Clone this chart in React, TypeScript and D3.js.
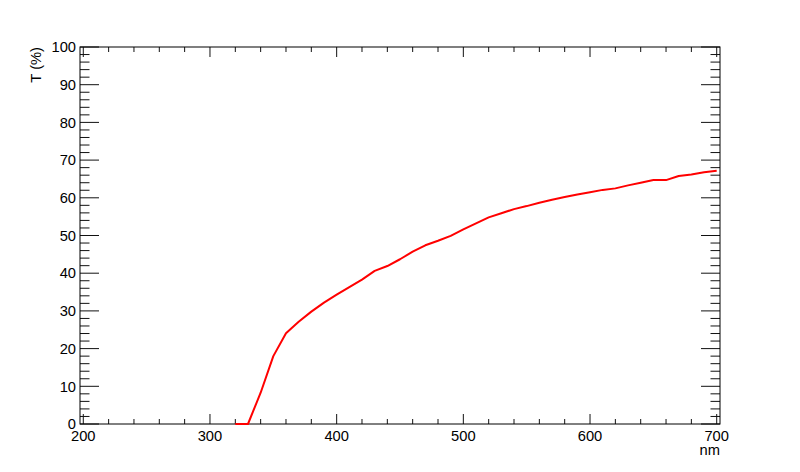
import React from "react";
import * as d3 from "d3";

const wavelengths = [320, 330, 340, 350, 360, 370, 380, 390, 400, 410, 420, 430, 440, 450, 460, 470, 480, 490, 500, 510, 520, 530, 540, 550, 560, 570, 580, 590, 600, 610, 620, 630, 640, 650, 660, 670, 680, 690, 700];
const transmission = [0, 0, 8.3, 18.0, 24.1, 27.1, 29.8, 32.2, 34.3, 36.3, 38.3, 40.6, 41.9, 43.7, 45.7, 47.4, 48.6, 49.9, 51.6, 53.2, 54.8, 55.9, 57.0, 57.8, 58.7, 59.5, 60.2, 60.9, 61.5, 62.1, 62.5, 63.3, 64.0, 64.7, 64.7, 65.8, 66.2, 66.8, 67.2];
const xMajorTicks = [200, 300, 400, 500, 600, 700];
const yMajorTicks = [0, 10, 20, 30, 40, 50, 60, 70, 80, 90, 100];
const xTitle = "nm";
const yTitle = "T (%)";

const W = 800, H = 472;
const L = 80, R = 720, T = 47, B = 424;

export default function App() {
  const x = d3.scaleLinear().domain([197.4, 702.6]).range([L, R]);
  const y = d3.scaleLinear().domain([0, 100]).range([B, T]);
  const line = d3.line<number>().x((_, i) => x(wavelengths[i])).y((d) => y(d));
  const xMinor = d3.range(200, 700.1, 20).filter((v) => v % 100 !== 0);
  const yMinor = d3.range(0, 100.1, 2).filter((v) => v % 10 !== 0);
  const font = "'Liberation Sans', Arial, Helvetica, sans-serif";
  const tc = "#111";
  const fs = 14.7;
  return (
    <svg width={W} height={H} style={{ position: "absolute", left: 0, top: 0, background: "#fff" }} fontFamily={font}>
      <rect x={0} y={0} width={W} height={H} fill="#fff" />
      {xMajorTicks.map((v) => (
        <g key={"xm" + v}>
          <line x1={x(v)} x2={x(v)} y1={B} y2={B - 10} stroke={tc} strokeWidth={1} />
          <line x1={x(v)} x2={x(v)} y1={T} y2={T + 10} stroke={tc} strokeWidth={1} />
          <text x={x(v)} y={440.5} textAnchor="middle" fontSize={fs} fill="#000">{v}</text>
        </g>
      ))}
      {xMinor.map((v) => (
        <g key={"xn" + v}>
          <line x1={x(v)} x2={x(v)} y1={B} y2={B - 5} stroke={tc} strokeWidth={1} />
          <line x1={x(v)} x2={x(v)} y1={T} y2={T + 5} stroke={tc} strokeWidth={1} />
        </g>
      ))}
      {yMajorTicks.map((v) => (
        <g key={"ym" + v}>
          <line x1={L} x2={L + 19} y1={y(v)} y2={y(v)} stroke={tc} strokeWidth={1} />
          <line x1={R} x2={R - 19} y1={y(v)} y2={y(v)} stroke={tc} strokeWidth={1} />
          <text x={76} y={y(v) + 5.2} textAnchor="end" fontSize={fs} fill="#000">{v}</text>
        </g>
      ))}
      {yMinor.map((v) => (
        <g key={"yn" + v}>
          <line x1={L} x2={L + 9.5} y1={y(v)} y2={y(v)} stroke={tc} strokeWidth={1} />
          <line x1={R} x2={R - 9.5} y1={y(v)} y2={y(v)} stroke={tc} strokeWidth={1} />
        </g>
      ))}
      <rect x={L} y={T} width={R - L} height={B - T} fill="none" stroke="#000" strokeWidth={1} />
      <path d={line(transmission) || ""} fill="none" stroke="#ff0000" strokeWidth={2} strokeLinejoin="round" />
      <text x={720} y={455} textAnchor="end" fontSize={fs} fill="#000">{xTitle}</text>
      <text transform="translate(41,47) rotate(-90)" textAnchor="end" fontSize={fs} fill="#000">{yTitle}</text>
    </svg>
  );
}
